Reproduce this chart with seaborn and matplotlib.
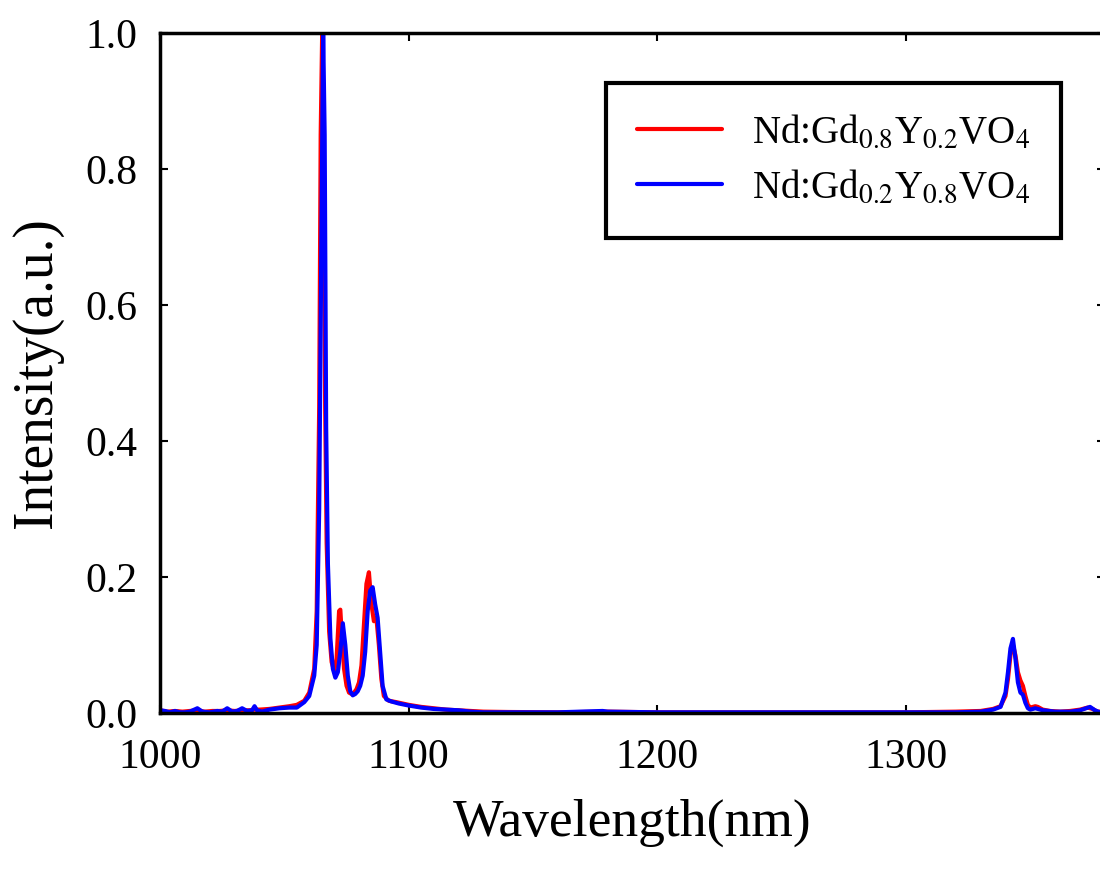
import numpy as np
import pandas as pd
import matplotlib
matplotlib.use("Agg")
import matplotlib.pyplot as plt
import seaborn as sns

# Nd:Gd0.8Y0.2VO4 (red)
wl_red = [1000, 1003, 1006, 1009, 1012, 1015, 1018, 1021, 1024, 1027, 1030, 1033, 1036, 1038,
          1040, 1044, 1048, 1052, 1055, 1058, 1060, 1062, 1063, 1064, 1064.6, 1065.2, 1065.8,
          1066.4, 1067, 1068, 1069, 1070, 1071, 1072, 1072.5, 1073, 1074, 1075, 1076, 1077,
          1078, 1079, 1080, 1081, 1082, 1083, 1084, 1085, 1086, 1087, 1088, 1089, 1090, 1092,
          1095, 1100, 1105, 1110, 1115, 1120, 1125, 1130, 1140, 1160, 1180, 1200, 1250, 1300,
          1320, 1330, 1335, 1338, 1340, 1341, 1342, 1343, 1344, 1345, 1346, 1347, 1348, 1349,
          1350, 1352, 1353, 1355, 1358, 1362, 1366, 1370, 1373, 1375, 1377, 1380]
int_red = [0.004, 0.002, 0.003, 0.002, 0.003, 0.004, 0.002, 0.003, 0.003, 0.004, 0.003, 0.004,
           0.004, 0.005, 0.005, 0.006, 0.008, 0.010, 0.012, 0.018, 0.030, 0.065, 0.15, 0.45,
           0.85, 1.0, 0.80, 0.45, 0.25, 0.12, 0.075, 0.062, 0.08, 0.15, 0.152, 0.12, 0.065,
           0.04, 0.03, 0.028, 0.03, 0.035, 0.045, 0.07, 0.13, 0.19, 0.207, 0.16, 0.135, 0.14,
           0.10, 0.05, 0.025, 0.018, 0.016, 0.012, 0.009, 0.007, 0.005, 0.004, 0.003, 0.002,
           0.0015, 0.001, 0.002, 0.001, 0.001, 0.001, 0.002, 0.003, 0.006, 0.010, 0.025, 0.05,
           0.085, 0.10, 0.085, 0.06, 0.048, 0.04, 0.025, 0.012, 0.008, 0.01, 0.009, 0.005,
           0.003, 0.002, 0.003, 0.005, 0.008, 0.006, 0.002, 0.002]

# Nd:Gd0.2Y0.8VO4 (blue)
wl_blue = [1000, 1002, 1004, 1006, 1008, 1010, 1012, 1015, 1017, 1020, 1023, 1025, 1027, 1029,
           1031, 1033, 1035, 1037, 1038, 1039, 1041, 1044, 1048, 1052, 1055, 1058, 1060, 1062,
           1063, 1064, 1065, 1065.6, 1066.2, 1066.8, 1067.5, 1068.5, 1069.5, 1070.5, 1071.5,
           1072.5, 1073.5, 1074.5, 1075.5, 1076.5, 1077.5, 1078.5, 1079.5, 1080.5, 1081.5,
           1082.5, 1083.5, 1084.5, 1085.5, 1086.5, 1087.5, 1088.5, 1089.5, 1091, 1093, 1096,
           1100, 1105, 1110, 1115, 1120, 1125, 1130, 1140, 1160, 1178, 1180, 1200, 1250, 1300,
           1320, 1330, 1335, 1338, 1340, 1341, 1342, 1343, 1344, 1345, 1346, 1347, 1348, 1349,
           1350, 1352, 1353, 1355, 1360, 1366, 1370, 1374, 1376, 1378, 1380]
int_blue = [0.004, 0.003, 0.001, 0.003, 0.001, 0.001, 0.002, 0.007, 0.002, 0.001, 0.003, 0.002,
            0.007, 0.002, 0.003, 0.007, 0.003, 0.004, 0.010, 0.004, 0.002, 0.005, 0.007, 0.008,
            0.008, 0.016, 0.025, 0.055, 0.10, 0.30, 0.75, 1.0, 0.85, 0.42, 0.22, 0.11, 0.065,
            0.052, 0.06, 0.09, 0.132, 0.10, 0.055, 0.032, 0.026, 0.028, 0.032, 0.04, 0.055,
            0.09, 0.15, 0.18, 0.185, 0.16, 0.14, 0.09, 0.04, 0.02, 0.017, 0.014, 0.011, 0.008,
            0.006, 0.005, 0.004, 0.002, 0.001, 0.001, 0.001, 0.003, 0.002, 0.001, 0.001, 0.001,
            0.001, 0.002, 0.005, 0.009, 0.03, 0.06, 0.095, 0.109, 0.08, 0.045, 0.03, 0.027,
            0.015, 0.007, 0.005, 0.007, 0.006, 0.004, 0.002, 0.002, 0.004, 0.009, 0.004, 0.001,
            0.001]

labels = [r"Nd:Gd$_{0.8}$Y$_{0.2}$VO$_4$", r"Nd:Gd$_{0.2}$Y$_{0.8}$VO$_4$"]

df = pd.concat([
    pd.DataFrame({"wl": wl_red, "inten": int_red, "sample": labels[0]}),
    pd.DataFrame({"wl": wl_blue, "inten": int_blue, "sample": labels[1]}),
])

sns.set_theme(style="white")
plt.rcParams["font.family"] = ["Liberation Serif", "DejaVu Serif"]
plt.rcParams["mathtext.fontset"] = "stix"
plt.rcParams["text.color"] = "black"
plt.rcParams["axes.labelcolor"] = "black"

fig = plt.figure(figsize=(11, 8.69), dpi=100)
ax = fig.add_axes([0.1455, 0.1795, 0.859, 0.7825])

sns.lineplot(data=df, x="wl", y="inten", hue="sample", palette=["#ff0000", "#0000ff"],
             sort=False, estimator=None, linewidth=3.0, ax=ax)

ax.set_xlim(1000, 1380)
ax.set_ylim(0, 1.0)
ax.set_xticks([1000, 1100, 1200, 1300])
ax.set_yticks([0.0, 0.2, 0.4, 0.6, 0.8, 1.0])
ax.set_yticklabels(["0.0", "0.2", "0.4", "0.6", "0.8", "1.0"])
ax.tick_params(direction="in", length=6, width=1.5, labelsize=30, pad=16,
               top=True, right=True, bottom=True, left=True, colors="black")
ax.tick_params(axis="x", pad=18)
for s in ax.spines.values():
    s.set_linewidth(2.5)
    s.set_color("black")

ax.set_xlabel("Wavelength(nm)", fontsize=38.5, labelpad=16)
ax.set_ylabel("Intensity(a.u.)", fontsize=40, labelpad=16)

leg = ax.legend(loc="upper right", bbox_to_anchor=(1061 / 1100, 1 - 83 / 869),
                bbox_transform=fig.transFigure, fontsize=28, frameon=True, fancybox=False,
                framealpha=1, handlelength=2.2, borderpad=0.8, labelspacing=0.45,
                handletextpad=0.75, borderaxespad=0)
leg.get_frame().set_edgecolor("black")
leg.get_frame().set_linewidth(3)
for line in leg.get_lines():
    line.set_linewidth(3)

fig.savefig("out.png", dpi=100)
